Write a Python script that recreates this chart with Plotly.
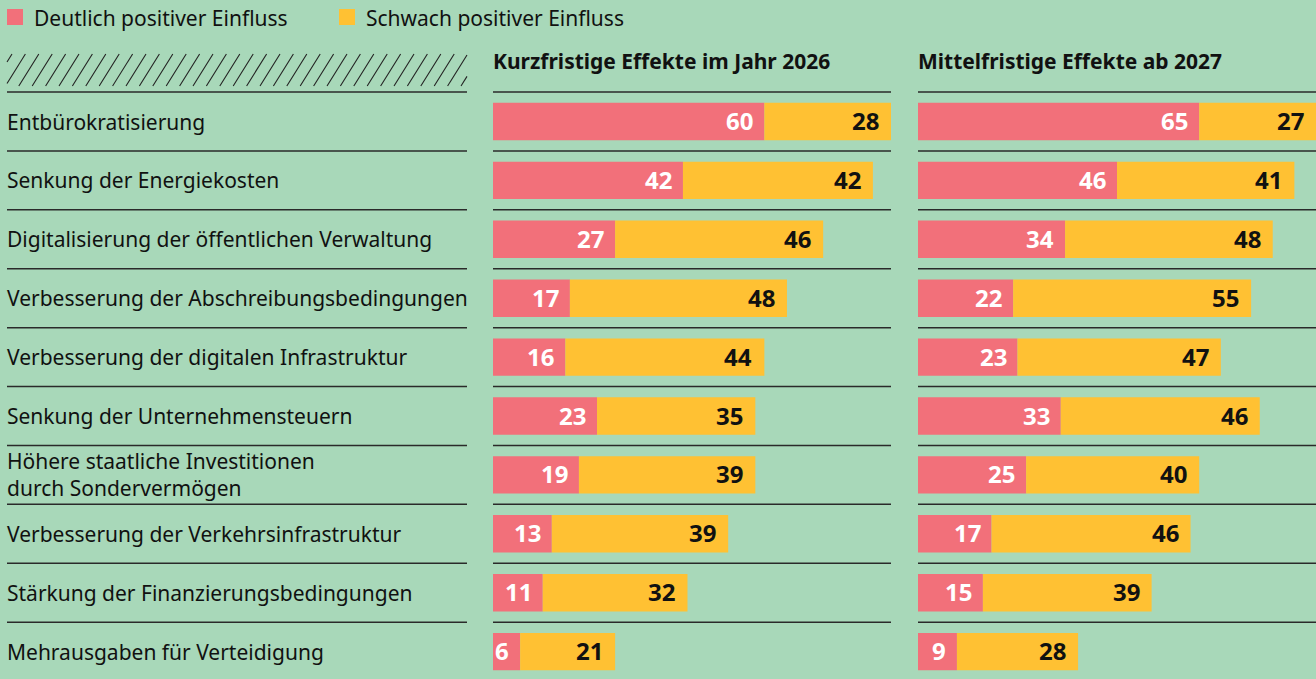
import plotly.graph_objects as go

categories = [
    "Entbürokratisierung",
    "Senkung der Energiekosten",
    "Digitalisierung der öffentlichen Verwaltung",
    "Verbesserung der Abschreibungsbedingungen",
    "Verbesserung der digitalen Infrastruktur",
    "Senkung der Unternehmensteuern",
    "Höhere staatliche Investitionen<br>durch Sondervermögen",
    "Verbesserung der Verkehrsinfrastruktur",
    "Stärkung der Finanzierungsbedingungen",
    "Mehrausgaben für Verteidigung",
]
kurz_deutlich = [60, 42, 27, 17, 16, 23, 19, 13, 11, 6]
kurz_schwach = [28, 42, 46, 48, 44, 35, 39, 39, 32, 21]
mittel_deutlich = [65, 46, 34, 22, 23, 33, 25, 17, 15, 9]
mittel_schwach = [27, 41, 48, 55, 47, 46, 40, 46, 39, 28]
series_names = ["Deutlich positiver Einfluss", "Schwach positiver Einfluss"]
panel_titles = ["Kurzfristige Effekte im Jahr 2026", "Mittelfristige Effekte ab 2027"]

W, H = 1316, 679
BG = "rgb(168,216,185)"
PINK = "rgb(242,112,122)"
YELLOW = "rgb(255,193,51)"
DARK = "#111111"
FONT = "Noto Sans"

def px(x):
    return x / W

def py(y):
    return 1 - y / H

rows = list(range(len(categories)))
fig = go.Figure()

panels = [
    ("x", "y", kurz_deutlich, kurz_schwach),
    ("x2", "y", mittel_deutlich, mittel_schwach),
]
for xa, ya, d, s in panels:
    fig.add_trace(go.Bar(x=d, y=rows, orientation="h", marker=dict(color=PINK, line_width=0),
                         width=0.635, xaxis=xa, yaxis=ya, showlegend=False, name=series_names[0]))
    fig.add_trace(go.Bar(x=s, y=rows, orientation="h", base=d, marker=dict(color=YELLOW, line_width=0),
                         width=0.635, xaxis=xa, yaxis=ya, showlegend=False, name=series_names[1]))

fig.update_layout(barmode="overlay")

annotations = []
shapes = []
for xa, ya, d, s in panels:
    for i in rows:
        annotations.append(dict(x=d[i], y=i, xref=xa, yref="y", text=f"<b>{d[i]}</b>", showarrow=False,
                                xanchor="right", yanchor="middle", xshift=-9, yshift=1,
                                font=dict(family=FONT, size=24, color="white")))
        annotations.append(dict(x=d[i] + s[i], y=i, xref=xa, yref="y", text=f"<b>{s[i]}</b>", showarrow=False,
                                xanchor="right", yanchor="middle", xshift=-10, yshift=1,
                                font=dict(family=FONT, size=24, color=DARK)))

# category labels
for i, c in enumerate(categories):
    annotations.append(dict(x=px(5), y=i, xref="paper", yref="y", text=c, showarrow=False,
                            xanchor="left", yanchor="middle", align="left",
                            font=dict(family=FONT, size=21, color=DARK)))

# panel titles
for xpix, t in zip([493, 918], panel_titles):
    annotations.append(dict(x=px(xpix - 2), y=py(61), xref="paper", yref="paper", text=f"<b>{t}</b>",
                            showarrow=False, xanchor="left", yanchor="middle",
                            font=dict(family=FONT, size=21, color=DARK)))

# legend
for xpix, col, name in [(7, PINK, series_names[0]), (339, YELLOW, series_names[1])]:
    shapes.append(dict(type="rect", xref="paper", yref="paper", x0=px(xpix), x1=px(xpix + 16),
                       y0=py(25), y1=py(9), fillcolor=col, line_width=0))
    annotations.append(dict(x=px(xpix + 25), y=py(18), xref="paper", yref="paper", text=name,
                            showarrow=False, xanchor="left", yanchor="middle",
                            font=dict(family=FONT, size=21, color=DARK)))

# separator lines
for k in range(len(categories)):
    yv = k - 0.5
    for x0, x1 in [(7, 467), (493, 891), (918, 1316)]:
        shapes.append(dict(type="line", xref="paper", yref="y", x0=px(x0), x1=px(x1), y0=yv, y1=yv,
                           line=dict(color="#2a2a2a", width=1.5)))

# hatch area (diagonal lines, ~58 degrees)
hx0, hx1, hy0, hy1 = 7, 467, 86, 54
hh = hy0 - hy1
dxl = 20.0
step = 13.4
xb = hx0 - dxl + 5
while xb <= hx1:
    ax0, ay0 = xb, hy0
    ax1, ay1 = xb + dxl, hy1
    slope = hh / dxl
    if ax0 < hx0:
        ay0 = hy0 - (hx0 - ax0) * slope
        ax0 = hx0
    if ax1 > hx1:
        ay1 = hy1 + (ax1 - hx1) * slope
        ax1 = hx1
    if ax1 > ax0:
        shapes.append(dict(type="line", xref="paper", yref="paper", x0=px(ax0), y0=py(ay0),
                           x1=px(ax1), y1=py(ay1), line=dict(color="#222222", width=1.1)))
    xb += step

# y mapping: row i center at pixel 121.5 + 58.9*i
pitch = 58.9
c0 = 121.5
ytop = -c0 / pitch
ybot = (H - c0) / pitch

fig.update_layout(
    width=W, height=H,
    margin=dict(l=0, r=0, t=0, b=0),
    paper_bgcolor=BG, plot_bgcolor=BG,
    xaxis=dict(domain=[px(493), px(891)], range=[0, 88], visible=False, fixedrange=True),
    xaxis2=dict(domain=[px(918), px(1316)], range=[0, 92], visible=False, fixedrange=True),
    yaxis=dict(domain=[0, 1], range=[ybot, ytop], visible=False, fixedrange=True),
    annotations=annotations,
    shapes=shapes,
    font=dict(family=FONT, color=DARK),
)

fig.write_html(
    "out.html",
    config={"displayModeBar": False},
    post_script="document.body.style.margin='0';document.body.style.background='rgb(168,216,185)';document.body.style.overflow='hidden';",
)
